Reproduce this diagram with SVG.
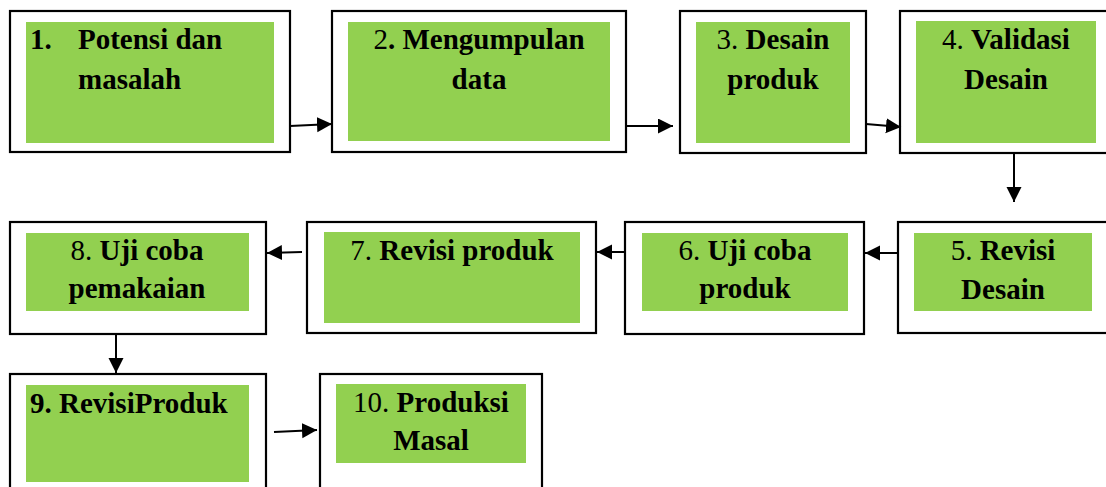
<svg xmlns="http://www.w3.org/2000/svg" width="1106" height="487" viewBox="0 0 1106 487">
<style>
.box{fill:#ffffff;stroke:#000000;stroke-width:2.2}
.fill{fill:#92D050}
text{font-family:"Liberation Serif","Times New Roman",serif;font-size:29px;fill:#000000;font-weight:bold}
.c{text-anchor:middle}
.r{font-weight:normal}
.conn{stroke:#000000;stroke-width:2;fill:none}
</style>
<defs>
<marker id="ah" markerUnits="userSpaceOnUse" markerWidth="16" markerHeight="16" refX="15" refY="7.5" orient="auto">
<path d="M0,0 L15,7.5 L0,15 Z" fill="#000000"/>
</marker>
</defs>
<rect width="1106" height="487" fill="#ffffff"/>
<g id="n1">
<rect class="box" x="10" y="11" width="280" height="141"/>
<rect class="fill" x="26" y="22" width="248" height="121"/>
<text x="30" y="49">1.</text>
<text x="78" y="49">Potensi dan</text>
<text x="78" y="89">masalah</text>
</g>
<g id="n2">
<rect class="box" x="332" y="11" width="294" height="141"/>
<rect class="fill" x="348" y="22" width="262" height="119"/>
<text class="c" x="479" y="49"><tspan class="r">2</tspan>. Mengumpulan</text>
<text class="c" x="479" y="89">data</text>
</g>
<g id="n3">
<rect class="box" x="680" y="11" width="186" height="142"/>
<rect class="fill" x="696" y="22" width="154" height="121"/>
<text class="c" x="773" y="49"><tspan class="r">3. </tspan>Desain</text>
<text class="c" x="773" y="89">produk</text>
</g>
<g id="n4">
<rect class="box" x="900" y="11" width="212" height="142"/>
<rect class="fill" x="916" y="21" width="180" height="122"/>
<text class="c" x="1006" y="49"><tspan class="r">4. </tspan>Validasi</text>
<text class="c" x="1006" y="89">Desain</text>
</g>
<g id="n5">
<rect class="box" x="898" y="222" width="212" height="111"/>
<rect class="fill" x="914" y="233" width="178" height="78"/>
<text class="c" x="1003" y="260"><tspan class="r">5. </tspan>Revisi</text>
<text class="c" x="1003" y="299">Desain</text>
</g>
<g id="n6">
<rect class="box" x="625" y="222" width="239" height="112"/>
<rect class="fill" x="642" y="233" width="206" height="78"/>
<text class="c" x="745" y="260"><tspan class="r">6. </tspan>Uji coba</text>
<text class="c" x="745" y="298">produk</text>
</g>
<g id="n7">
<rect class="box" x="307" y="222" width="289" height="111"/>
<rect class="fill" x="324" y="232" width="256" height="91"/>
<text class="c" x="452" y="260"><tspan class="r">7. </tspan>Revisi produk</text>
</g>
<g id="n8">
<rect class="box" x="10" y="222" width="256" height="112"/>
<rect class="fill" x="26" y="233" width="223" height="78"/>
<text class="c" x="137" y="260"><tspan class="r">8. </tspan>Uji coba</text>
<text class="c" x="137" y="298">pemakaian</text>
</g>
<g id="n9">
<rect class="box" x="10" y="374" width="256" height="120"/>
<rect class="fill" x="26" y="385" width="223" height="97"/>
<text x="30" y="413">9. RevisiProduk</text>
</g>
<g id="n10">
<rect class="box" x="320" y="374" width="222" height="120"/>
<rect class="fill" x="336" y="384" width="190" height="79"/>
<text class="c" x="431" y="412"><tspan class="r">10. </tspan>Produksi</text>
<text class="c" x="431" y="450">Masal</text>
</g>
<g id="connectors">
<line class="conn" x1="290" y1="126" x2="332" y2="124" marker-end="url(#ah)"/>
<line class="conn" x1="626" y1="126" x2="673" y2="126" marker-end="url(#ah)"/>
<line class="conn" x1="866" y1="124" x2="901" y2="127" marker-end="url(#ah)"/>
<line class="conn" x1="1014" y1="153" x2="1014" y2="202" marker-end="url(#ah)"/>
<line class="conn" x1="898" y1="253" x2="865" y2="253" marker-end="url(#ah)"/>
<line class="conn" x1="625" y1="252" x2="597" y2="252" marker-end="url(#ah)"/>
<line class="conn" x1="302" y1="252" x2="267" y2="253" marker-end="url(#ah)"/>
<line class="conn" x1="116" y1="334" x2="116" y2="373" marker-end="url(#ah)"/>
<line class="conn" x1="274" y1="432" x2="317" y2="430" marker-end="url(#ah)"/>
</g>
</svg>
